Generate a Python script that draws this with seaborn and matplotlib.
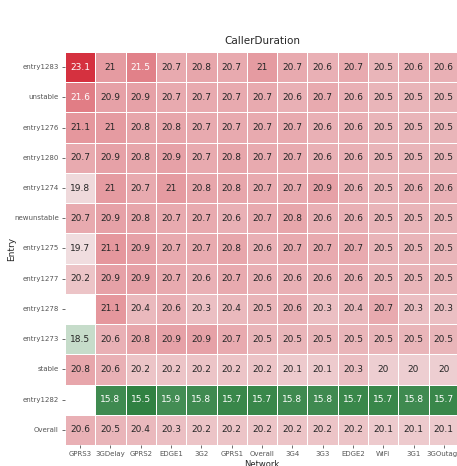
import matplotlib
matplotlib.use("Agg")
import matplotlib.pyplot as plt
import numpy as np
import pandas as pd
import seaborn as sns

NETWORKS = ["GPRS3", "3GDelay", "GPRS2", "EDGE1", "3G2", "GPRS1", "Overall",
            "3G4", "3G3", "EDGE2", "WiFi", "3G1", "3GOutage"]
ENTRIES = ["entry1283", "unstable", "entry1276", "entry1280", "entry1274",
           "newunstable", "entry1275", "entry1277", "entry1278", "entry1273",
           "stable", "entry1282", "Overall"]

nan = np.nan
entry1283 = [23.1, 21.0, 21.5, 20.7, 20.8, 20.7, 21.0, 20.7, 20.6, 20.7, 20.5, 20.6, 20.6]
unstable = [21.6, 20.9, 20.9, 20.7, 20.7, 20.7, 20.7, 20.6, 20.7, 20.6, 20.5, 20.5, 20.5]
entry1276 = [21.1, 21.0, 20.8, 20.8, 20.7, 20.7, 20.7, 20.7, 20.6, 20.6, 20.5, 20.5, 20.5]
entry1280 = [20.7, 20.9, 20.8, 20.9, 20.7, 20.8, 20.7, 20.7, 20.6, 20.6, 20.5, 20.5, 20.5]
entry1274 = [19.8, 21.0, 20.7, 21.0, 20.8, 20.8, 20.7, 20.7, 20.9, 20.6, 20.5, 20.6, 20.6]
newunstable = [20.7, 20.9, 20.8, 20.7, 20.7, 20.6, 20.7, 20.8, 20.6, 20.6, 20.5, 20.5, 20.5]
entry1275 = [19.7, 21.1, 20.9, 20.7, 20.7, 20.8, 20.6, 20.7, 20.7, 20.7, 20.5, 20.5, 20.5]
entry1277 = [20.2, 20.9, 20.9, 20.7, 20.6, 20.7, 20.6, 20.6, 20.6, 20.6, 20.5, 20.5, 20.5]
entry1278 = [nan, 21.1, 20.4, 20.6, 20.3, 20.4, 20.5, 20.6, 20.3, 20.4, 20.7, 20.3, 20.3]
entry1273 = [18.5, 20.6, 20.8, 20.9, 20.9, 20.7, 20.5, 20.5, 20.5, 20.5, 20.5, 20.5, 20.5]
stable = [20.8, 20.6, 20.2, 20.2, 20.2, 20.2, 20.2, 20.1, 20.1, 20.3, 20.0, 20.0, 20.0]
entry1282 = [nan, 15.8, 15.5, 15.9, 15.8, 15.7, 15.7, 15.8, 15.8, 15.7, 15.7, 15.8, 15.7]
overall = [20.6, 20.5, 20.4, 20.3, 20.2, 20.2, 20.2, 20.2, 20.2, 20.2, 20.1, 20.1, 20.1]

rows = [entry1283, unstable, entry1276, entry1280, entry1274, newunstable,
        entry1275, entry1277, entry1278, entry1273, stable, entry1282, overall]
df = pd.DataFrame(rows, index=pd.Index(ENTRIES, name="Entry"),
                  columns=pd.Index(NETWORKS, name="Network"))

fig = plt.figure(figsize=(4.57, 4.66), dpi=100)
# axes run slightly past the right edge, as in the original crop
ax = fig.add_axes([65 / 457, 21 / 466, 394 / 457, 393 / 466])
cmap = sns.diverging_palette(133, 10, s=80, l=48, as_cmap=True)
sns.heatmap(df, ax=ax, cmap=cmap, annot=True, fmt=".3g", cbar=False,
            linewidths=0.6, linecolor="white", annot_kws={"fontsize": 6.5})
ax.set_title("CallerDuration", fontsize=7.5, color="#262626")
ax.set_xlabel("Network", fontsize=6, color="#262626", labelpad=2)
ax.set_ylabel("Entry", fontsize=6.5, color="#262626")
ax.yaxis.set_label_coords(-0.125, 0.5)
ax.tick_params(axis="both", labelsize=5, colors="#555555", length=2.5, width=0.6, pad=2)
ax.tick_params(axis="x", labelrotation=0)
ax.tick_params(axis="y", labelrotation=0)
fig.savefig("out.png", dpi=100)
